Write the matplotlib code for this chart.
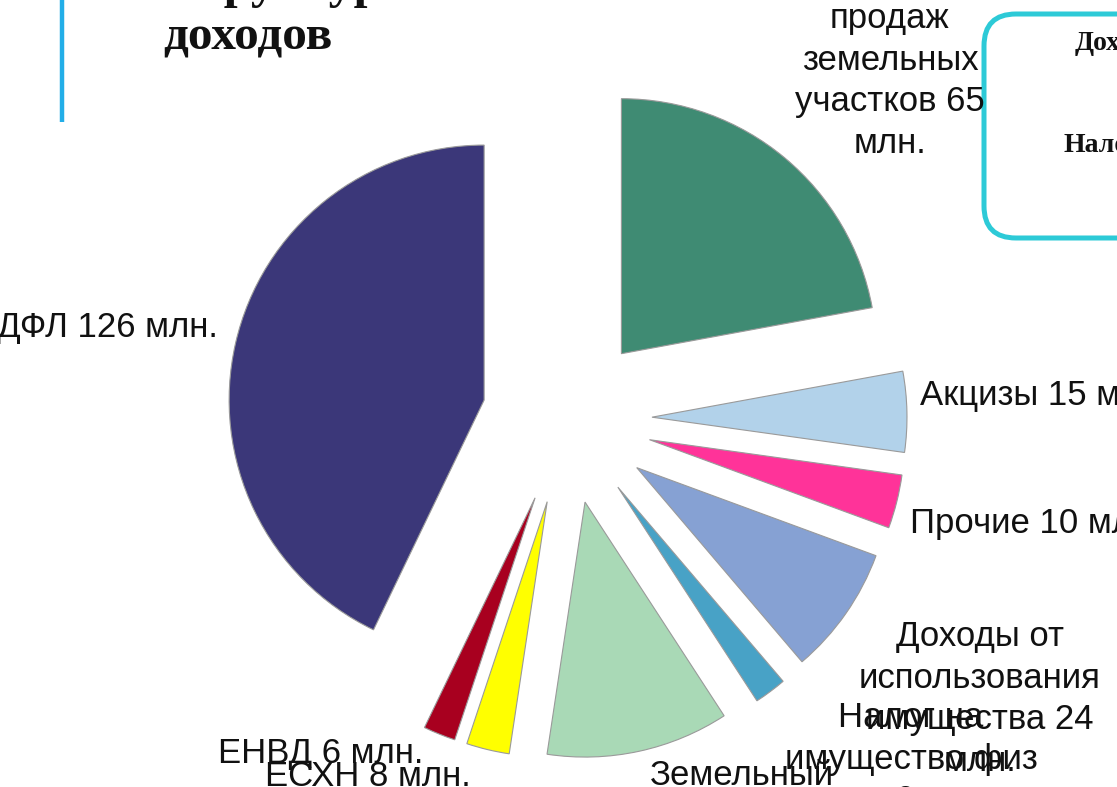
import matplotlib
matplotlib.use("Agg")
import matplotlib.pyplot as plt
from matplotlib.patches import FancyBboxPatch

# revenue structure, mln
labels = ["Доходы от\nпродаж\nземельных\nучастков 65\nмлн.",
          "Акцизы 15 млн.",
          "Прочие 10 млн.",
          "Доходы от\nиспользования\nимущества 24\nмлн.",
          "Налог на\nимущество физ\nлиц 6 млн.",
          "Земельный\nналог 34 млн.",
          "ЕСХН 8 млн.",
          "ЕНВД 6 млн.",
          "НДФЛ 126 млн."]
values = [65, 15, 10, 24, 6, 34, 8, 6, 126]
colors = ["#3F8B73", "#B2D2EA", "#FF3399", "#86A1D3", "#48A2C6",
          "#A9D9B6", "#FFFF00", "#A8001F", "#3B3779"]

W, H = 1117, 787
CX, CY, R = 567, 419, 255   # pie centre and radius in pixels


def d(px, py):
    # pixel position -> data coordinates (1 unit = pie radius)
    return (px - CX) / R, (CY - py) / R


fig = plt.figure(figsize=(W / 100, H / 100), dpi=100)
ax = fig.add_axes([0, 0, 1, 1])
ax.pie(values, colors=colors, startangle=90, counterclock=False, radius=1,
       explode=[1 / 3] * len(values),
       wedgeprops=dict(edgecolor="#9A9A9A", linewidth=0.8))
ax.set_aspect("auto")
ax.set_xlim(-CX / R, (W - CX) / R)
ax.set_ylim(-(H - CY) / R, CY / R)
ax.axis("off")

font = dict(family=["Liberation Sans", "DejaVu Sans"], fontsize=25,
            color="#111111", linespacing=1.33)
# label anchors (pixels) and alignment
label_pos = [(890, 60, "center"), (920, 396, "left"), (910, 523, "left"),
             (980, 699, "center"), (911, 759, "center"), (742, 796, "center"),
             (265, 776, "left"), (218, 753, "left"), (218, 328, "right")]
for txt, (px, py, ha) in zip(labels, label_pos):
    x, y = d(px, py)
    ax.text(x, y, txt, ha=ha, va="center", multialignment="center",
            clip_on=False, **font)

# slide decorations: title, accent bar, side box
serif = dict(family=["Liberation Serif", "DejaVu Serif"], fontweight="bold",
             color="#111111", clip_on=False)
ax.text(*d(163, -3), "Структура", fontsize=36, va="baseline", **serif)
ax.text(*d(163, 50), "доходов", fontsize=35.5, va="baseline", **serif)

x0, y0 = d(62, 0)
x1, y1 = d(62, 122)
ax.plot([x0, x1], [y0, y1], color="#22AEE8", linewidth=3.2,
        solid_capstyle="butt", clip_on=False)

bx, by = d(984, 238)
bx2, by2 = d(1250, 14)
box = FancyBboxPatch((bx, by), bx2 - bx, by2 - by,
                     boxstyle="round,pad=0,rounding_size=%f" % (32 / R),
                     facecolor="white", edgecolor="#2DCAD7", linewidth=3.6,
                     clip_on=False)
ax.add_patch(box)
ax.text(*d(1075, 43), "Доходы", fontsize=20, va="center", **serif)
ax.text(*d(1063, 145), "Налоговые", fontsize=20, va="center", **serif)

fig.savefig("out.png", dpi=100)
